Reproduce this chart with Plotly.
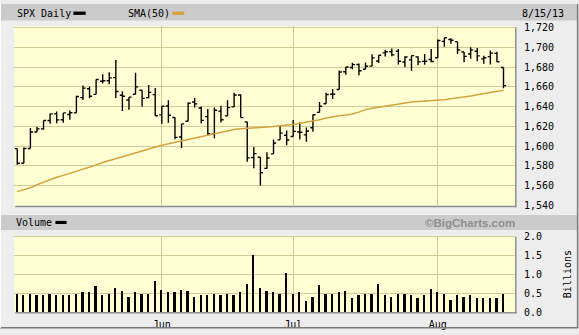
import plotly.graph_objects as go

# ---------------- data ----------------
may = [1,2,3,6,7,8,9,10,13,14,15,16,17,20,21,22,23,24,28,29,30,31]
jun = [3,4,5,6,7,10,11,12,13,14,17,18,19,20,21,24,25,26,27,28]
jul = [1,2,3,5,8,9,10,11,12,15,16,17,18,19,22,23,24,25,26,29,30,31]
aug = [1,2,5,6,7,8,9,12,13,14,15]
dates = ([f"2013-05-{d:02d}" for d in may] + [f"2013-06-{d:02d}" for d in jun] +
         [f"2013-07-{d:02d}" for d in jul] + [f"2013-08-{d:02d}" for d in aug])

opens = [1597.55,1582.77,1597.60,1614.40,1617.55,1625.95,1632.69,1626.69,1632.10,1633.75,1649.13,1658.07,1652.45,1665.71,1666.20,1669.39,1651.62,1646.67,1652.63,1656.57,1649.14,1652.13,
         1631.71,1640.73,1629.05,1609.29,1625.27,1644.67,1638.64,1629.94,1612.15,1635.52,1630.64,1639.77,1651.83,1624.62,1588.62,1588.77,1577.52,1592.27,1606.44,1611.12,
         1609.78,1614.29,1611.48,1618.65,1634.20,1642.89,1652.50,1657.41,1675.26,1679.59,1682.70,1677.91,1681.05,1686.15,1694.41,1695.60,1696.00,1685.21,1687.31,1690.32,1685.79,1687.76,
         1689.42,1706.10,1708.01,1705.79,1695.30,1693.35,1696.10,1688.37,1690.65,1693.88,1679.61]
highs = [1597.55,1598.60,1618.46,1619.77,1626.03,1632.78,1635.01,1633.70,1636.00,1651.10,1661.49,1660.51,1667.47,1672.84,1674.93,1687.18,1655.50,1649.78,1674.21,1656.57,1661.91,1658.99,
         1640.42,1646.53,1629.31,1622.56,1644.40,1648.69,1640.13,1637.71,1639.25,1640.80,1646.50,1654.19,1652.45,1624.62,1599.19,1588.77,1593.79,1606.83,1620.07,1615.94,
         1626.61,1624.26,1618.97,1632.07,1644.68,1654.18,1657.92,1676.63,1680.19,1684.51,1683.73,1684.75,1693.12,1692.09,1697.61,1698.78,1698.38,1690.94,1691.85,1690.92,1693.19,1698.43,
         1707.85,1709.67,1709.24,1705.79,1695.30,1700.18,1699.42,1691.49,1696.81,1695.52,1679.61]
lows = [1581.28,1582.77,1597.60,1614.21,1616.64,1622.70,1623.09,1623.71,1626.74,1633.75,1646.68,1648.60,1652.45,1663.52,1662.67,1648.86,1635.53,1636.88,1652.63,1640.05,1648.61,1630.74,
        1622.72,1623.62,1607.09,1598.23,1625.27,1639.26,1622.92,1610.92,1608.07,1623.96,1630.34,1639.77,1628.91,1584.32,1577.70,1560.33,1577.09,1592.27,1606.44,1601.06,
        1609.78,1606.77,1604.57,1614.71,1634.20,1642.89,1647.66,1657.41,1672.33,1677.89,1671.84,1677.91,1681.05,1684.08,1690.67,1691.13,1682.57,1680.07,1676.03,1681.86,1682.42,1684.94,
        1689.42,1700.68,1703.55,1693.29,1684.91,1688.38,1686.02,1683.35,1682.62,1684.83,1658.59]
closes = [1582.70,1597.59,1614.42,1617.50,1625.96,1632.69,1626.67,1633.70,1633.77,1650.34,1658.78,1650.47,1667.47,1666.29,1669.16,1655.35,1650.51,1649.60,1660.06,1648.36,1654.41,1630.74,
          1640.42,1631.38,1608.90,1622.56,1643.38,1642.81,1626.13,1612.52,1636.36,1626.73,1639.04,1651.81,1628.93,1588.19,1592.43,1573.09,1588.03,1603.26,1613.20,1606.28,
          1614.96,1614.08,1615.41,1631.89,1640.46,1652.32,1652.62,1675.02,1680.19,1682.50,1676.26,1680.91,1689.37,1692.09,1695.53,1692.39,1685.94,1690.25,1691.65,1685.33,1685.96,1685.73,
          1706.87,1709.67,1707.14,1697.37,1690.91,1697.48,1691.42,1689.47,1694.16,1685.39,1661.32]
sma50 = [1554,1556,1558,1561,1563.5,1566.5,1568.5,1570.5,1572.5,1574.5,1576.5,1579,1581,1583.5,1585.5,1587.5,1589.5,1591.5,1593.5,1595.5,1597.5,1599.5,
         1601,1602.5,1604,1605.5,1606.5,1608,1609.5,1611,1612.5,1614,1615.5,1617,1617.7,1618,1618.2,1618.5,1619.3,1620,1621,1621.5,
         1622,1623,1624.3,1625.5,1626.7,1628.5,1630,1630.8,1631.5,1632.5,1634.5,1637,1638.5,1639.5,1640.6,1641.8,1643,1644,1644.8,1645.2,1645.6,1646,
         1646.3,1647,1648,1648.8,1649.6,1650.8,1652,1653,1654.2,1655.4,1656.6]
volume = [0.50,0.45,0.50,0.47,0.47,0.50,0.47,0.45,0.45,0.50,0.53,0.55,0.71,0.47,0.50,0.66,0.58,0.42,0.53,0.50,0.50,0.84,
          0.60,0.55,0.55,0.60,0.58,0.42,0.47,0.47,0.50,0.45,0.50,0.45,0.55,0.76,1.53,0.66,0.58,0.55,0.50,1.05,
          0.50,0.53,0.29,0.42,0.74,0.50,0.50,0.55,0.58,0.39,0.45,0.50,0.50,0.76,0.45,0.42,0.50,0.50,0.45,0.39,0.47,0.63,
          0.53,0.50,0.34,0.45,0.42,0.45,0.39,0.37,0.39,0.39,0.50]

month_ticks = ["2013-06-03", "2013-07-01", "2013-08-01"]
month_labels = ["Jun", "Jul", "Aug"]
price_ticks = [1540, 1560, 1580, 1600, 1620, 1640, 1660, 1680, 1700, 1720]
vol_ticks = [0.0, 0.5, 1.0, 1.5, 2.0]

# ---------------- layout helpers ----------------
W, H = 579, 335
def px(x): return x / W
def py(y): return 1 - y / H

FONT = "DejaVu Sans Mono"
BG = "#EDEDED"
BAND = "#CBCBCB"
PLOT_BG = "#FFFFD4"
GRID = "#CDCD98"
SMA_C = "#D6A23E"

X0, X1 = 14.3, 515.0
P_TOP, P_BOT = 23.0, 208.0
V_TOP, V_BOT = 238.8, 317.5
xr = [-0.45, 75.75]

fig = go.Figure()
fig.add_trace(go.Ohlc(x=dates, open=opens, high=highs, low=lows, close=closes,
                      increasing=dict(line=dict(color="black", width=1.4)),
                      decreasing=dict(line=dict(color="black", width=1.4)),
                      tickwidth=0.4, showlegend=False, hoverinfo="skip",
                      xaxis="x", yaxis="y"))
fig.add_trace(go.Scatter(x=dates, y=sma50, mode="lines",
                         line=dict(color=SMA_C, width=1.5),
                         showlegend=False, hoverinfo="skip", xaxis="x", yaxis="y"))
fig.add_trace(go.Bar(x=dates, y=volume, marker=dict(color="black", line=dict(width=0)),
                     width=0.28, showlegend=False, hoverinfo="skip",
                     xaxis="x2", yaxis="y2"))

axis_common = dict(showline=False, zeroline=False, fixedrange=True,
                   gridcolor=GRID, gridwidth=1.3)

fig.update_layout(
    width=W, height=H,
    margin=dict(l=0, r=0, t=0, b=0),
    paper_bgcolor=BG, plot_bgcolor=PLOT_BG,
    font=dict(family=FONT, size=10, color="black"),
    xaxis=dict(domain=[px(X0), px(X1)], type="category", range=xr,
               tickvals=month_ticks, showticklabels=False, ticks="",
               showgrid=True, rangeslider=dict(visible=False), anchor="y", **axis_common),
    yaxis=dict(domain=[py(P_BOT), py(P_TOP)], range=[1539.7, 1721.3], side="right",
               tickvals=price_ticks, tickformat=",", ticks="", ticklabelstandoff=8,
               showgrid=True, anchor="x", **axis_common),
    xaxis2=dict(domain=[px(X0), px(X1)], type="category", range=xr,
                tickvals=month_ticks, ticktext=month_labels, ticks="",
                ticklabelstandoff=5,
                showgrid=True, anchor="y2", **axis_common),
    yaxis2=dict(domain=[py(V_BOT), py(V_TOP)], range=[0, 2.03], side="right",
                tickvals=vol_ticks, tickformat=".1f", ticks="", ticklabelstandoff=8,
                showgrid=True, anchor="x2", **axis_common),
    bargap=0,
)

shapes = []
# header bands
shapes.append(dict(type="rect", xref="paper", yref="paper", x0=px(1), x1=px(577),
                   y0=py(17), y1=py(0), fillcolor=BAND, line=dict(width=0), layer="below"))
shapes.append(dict(type="rect", xref="paper", yref="paper", x0=px(1), x1=px(577),
                   y0=py(233), y1=py(217.5), fillcolor=BAND, line=dict(width=0), layer="below"))
# plot-area shadows (right & bottom)
for top, bot in [(P_TOP, P_BOT), (V_TOP, V_BOT)]:
    shapes.append(dict(type="line", xref="paper", yref="paper", x0=px(X1 + 0.8), x1=px(X1 + 0.8),
                       y0=py(bot + 1.5), y1=py(top + 1), line=dict(color="#8E8E8E", width=1.5)))
    shapes.append(dict(type="line", xref="paper", yref="paper", x0=px(X0 + 1), x1=px(X1 + 1.5),
                       y0=py(bot + 0.8), y1=py(bot + 0.8), line=dict(color="#8E8E8E", width=1.5)))
# outer frame (bevel)
shapes.append(dict(type="line", xref="paper", yref="paper", x0=px(577.6), x1=px(577.6),
                   y0=py(334), y1=py(0), line=dict(color="#7A7A7A", width=1.5)))
shapes.append(dict(type="line", xref="paper", yref="paper", x0=px(0), x1=px(578),
                   y0=py(333.6), y1=py(333.6), line=dict(color="#7A7A7A", width=1.5)))
shapes.append(dict(type="line", xref="paper", yref="paper", x0=px(0.5), x1=px(0.5),
                   y0=py(334), y1=py(0), line=dict(color="#FFFFFF", width=1)))
# legend swatches
shapes.append(dict(type="rect", xref="paper", yref="paper", x0=px(73.3), x1=px(85.7),
                   y0=py(11.2), y1=py(7.8), fillcolor="black", line=dict(width=0)))
shapes.append(dict(type="rect", xref="paper", yref="paper", x0=px(172.3), x1=px(184.3),
                   y0=py(11.2), y1=py(7.8), fillcolor=SMA_C, line=dict(width=0)))
shapes.append(dict(type="rect", xref="paper", yref="paper", x0=px(55.4), x1=px(66.6),
                   y0=py(226.8), y1=py(223.6), fillcolor="black", line=dict(width=0)))
fig.update_layout(shapes=shapes)

ann = []
def text(x, y, s, anchor="left", **kw):
    ann.append(dict(xref="paper", yref="paper", x=px(x), y=py(y), text=s, showarrow=False,
                    xanchor=anchor, yanchor="middle", **kw))
text(14.5, 9.6, "SPX Daily")
text(125.5, 9.6, "SMA(50)")
text(566, 9.6, "8/15/13", anchor="right")
text(14, 225.4, "Volume")
text(516.5, 225.4, "©BigCharts.com", anchor="right",
     font=dict(family="Liberation Sans", size=11.5, color="#8F8F8F", weight="bold"))
ann.append(dict(xref="paper", yref="paper", x=px(567), y=py(278.5), text="Billions",
                showarrow=False, textangle=-90, xanchor="center", yanchor="middle"))
fig.update_layout(annotations=ann)

fig.write_html("out.html")
